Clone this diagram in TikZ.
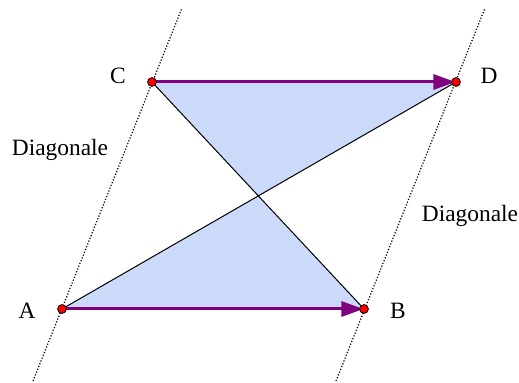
\documentclass[tikz,border=0pt]{standalone}
\usepackage{fontspec}
\setmainfont{Liberation Serif}
\usetikzlibrary{arrows.meta,positioning}
\definecolor{lightfill}{RGB}{204,218,250}
\definecolor{vecpurple}{RGB}{128,0,128}
\begin{document}
\begin{tikzpicture}[x=0.5pt, y=-0.5pt,
    pt/.style={circle, draw, fill=red, line width=0.4pt, inner sep=0pt, minimum size=4.4pt},
    lbl/.style={font=\fontsize{11.7}{13}\selectfont, inner sep=0pt},
    vec/.style={draw=vecpurple, line width=1.5pt, -{Triangle[length=11pt, width=7.5pt]}, shorten >=0.3pt},
    diag/.style={draw, line width=0.6pt, dash pattern=on 0.6pt off 0.9pt},
    line/.style={draw, line width=0.5pt}]
    \useasboundingbox (0,0) rectangle (519,383);
    \coordinate (A) at (62,309);
    \coordinate (B) at (364,309);
    \coordinate (C) at (152,82);
    \coordinate (D) at (456,82);
    \coordinate (X) at (intersection of A--D and C--B);
    \coordinate (l1) at (33,381);
    \coordinate (l2) at (182,8);
    \coordinate (r1) at (336,381);
    \coordinate (r2) at (485,8);

    \fill [lightfill] (A) -- (B) -- (X) -- cycle;
    \fill [lightfill] (C) -- (D) -- (X) -- cycle;
    \path [diag] (l1) -- (l2);
    \path [diag] (r1) -- (r2);
    \path [line] (A) -- (D);
    \path [line] (C) -- (B);
    \path [vec] (A) -- (B);
    \path [vec] (C) -- (D);

    \node [pt] (a) at (A) {};
    \node [pt] (b) at (B) {};
    \node [pt] (c) at (C) {};
    \node [pt] (d) at (D) {};
    \node [lbl] (la) at (27,311) {A};
    \node [lbl] (lb) at (398,311) {B};
    \node [lbl] (lc) at (118,76) {C};
    \node [lbl] (ld) at (489,76) {D};
    \node [lbl] (dl) at (60,150) {Diagonale};
    \node [lbl] (dr) at (470,216) {Diagonale};
\end{tikzpicture}
\end{document}
